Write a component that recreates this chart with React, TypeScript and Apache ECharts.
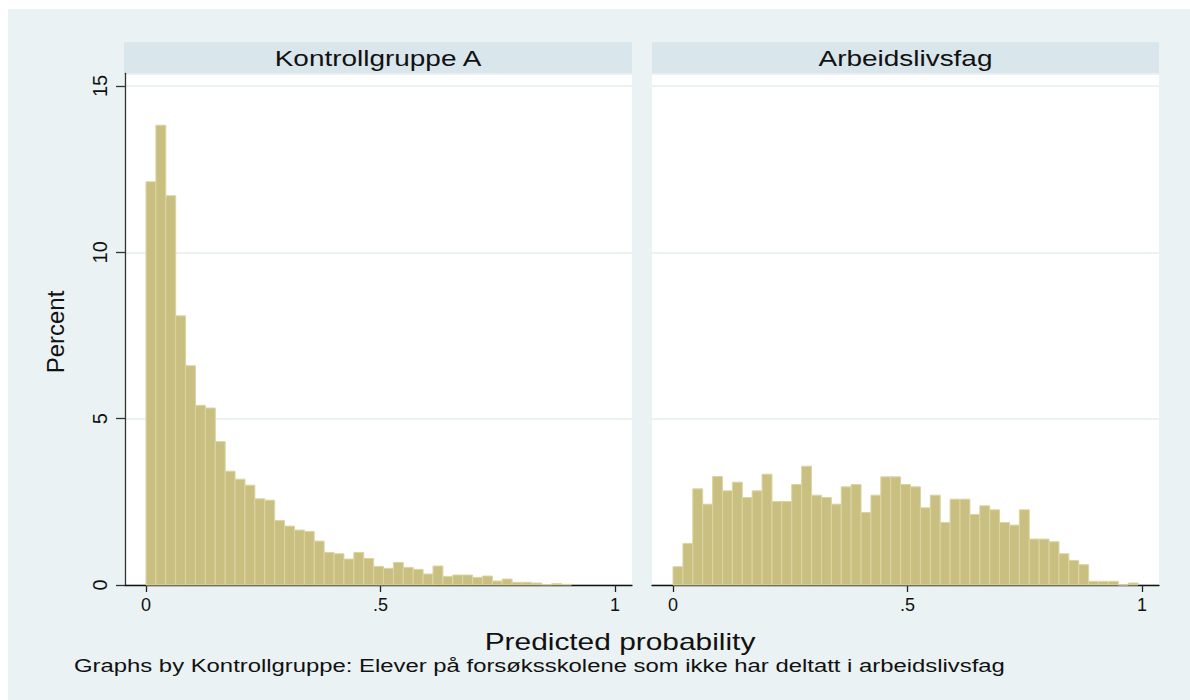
import React, { useEffect, useRef } from "react";
import * as echarts from "echarts";

const PANEL_TITLES = ["Kontrollgruppe A", "Arbeidslivsfag"];
const KONTROLL_A = [
  12.12, 13.82, 11.7, 8.09, 6.59, 5.4, 5.32, 4.31, 3.42, 3.18, 3.0, 2.59, 2.55, 1.94, 1.77,
  1.65, 1.61, 1.32, 0.98, 0.94, 0.78, 0.98, 0.8, 0.56, 0.5, 0.68, 0.53, 0.47, 0.33, 0.57,
  0.26, 0.3, 0.3, 0.23, 0.27, 0.12, 0.18, 0.08, 0.08, 0.06, 0.01, 0.04, 0.02,
];
const ARBEIDSLIVSFAG = [
  0.55, 1.25, 2.89, 2.43, 3.26, 2.83, 3.09, 2.63, 2.83, 3.33, 2.51, 2.51, 3.02, 3.57, 2.7,
  2.63, 2.43, 2.95, 3.02, 2.18, 2.7, 3.25, 3.25, 3.02, 2.95, 2.32, 2.7, 1.88, 2.58, 2.58,
  2.12, 2.38, 2.26, 1.88, 1.8, 2.26, 1.38, 1.38, 1.3, 0.94, 0.74, 0.61, 0.11, 0.11, 0.11,
  0, 0.06,
];
const BIN_START = 0;
const BIN_WIDTH = 0.0211;
const X_TICKS = [0, 0.5, 1];
const X_TICK_LABELS = ["0", ".5", "1"];
const Y_TITLE = "Percent";
const X_TITLE = "Predicted probability";
const NOTE = "Graphs by Kontrollgruppe: Elever på forsøksskolene som ikke har deltatt i arbeidslivsfag";

const FONT = "'Liberation Sans', Arial, Helvetica, sans-serif";
const BG = "#eaf2f3";
const STRIP = "#d9e6eb";
const FILL = "#c8bf80";
const EDGE = "#dbd5a2";

function binData(values: number[]) {
  return values.map((v, i) => [BIN_START + i * BIN_WIDTH, BIN_START + (i + 1) * BIN_WIDTH, v]);
}

export default function App() {
  const ref = useRef<HTMLDivElement>(null);
  useEffect(() => {
    if (!ref.current) return;
    const chart = echarts.init(ref.current, undefined, { renderer: "svg" });
    const renderItem = (params: any, api: any) => {
      const x0 = api.value(0);
      const x1 = api.value(1);
      const h = api.value(2);
      const p0 = api.coord([x0, h]);
      const p1 = api.coord([x1, 0]);
      return {
        type: "rect",
        shape: { x: p0[0], y: p0[1], width: p1[0] - p0[0], height: p1[1] - p0[1] },
        style: { fill: FILL, stroke: EDGE, lineWidth: 1 },
      };
    };
    const xAxisBase = (gridIndex: number) => ({
      type: "value",
      gridIndex,
      min: -0.0448,
      max: 1.0362,
      splitLine: { show: false },
      axisLine: { show: true, onZero: false, lineStyle: { color: "#111", width: 1.3 } },
      axisTick: { show: true, customValues: X_TICKS, length: 7, lineStyle: { color: "#222", width: 1.3 } },
      axisLabel: {
        show: true,
        customValues: X_TICKS,
        formatter: (v: number) => X_TICK_LABELS[X_TICKS.indexOf(v)] ?? "",
        fontSize: 18,
        fontFamily: FONT,
        color: "#111",
        margin: 11,
      },
    });
    const yAxisBase = (gridIndex: number, showAxis: boolean) => ({
      type: "value",
      gridIndex,
      min: 0,
      max: 15.38,
      interval: 5,
      splitLine: { show: true, lineStyle: { color: "#e6edf1", width: 1.5 } },
      axisLine: { show: showAxis, onZero: false, lineStyle: { color: "#333", width: 1.3 } },
      axisTick: { show: showAxis, length: 9, lineStyle: { color: "#333", width: 1.3 } },
      axisLabel: {
        show: showAxis,
        rotate: 90,
        fontSize: 20,
        fontFamily: FONT,
        color: "#111",
        margin: 15,
      },
    });
    const stripTitle = (cx: number, text: string) => ({
      type: "text",
      x: cx,
      y: 49,
      scaleX: 1.3,
      style: {
        text,
        x: 0,
        y: 0,
        align: "center",
        verticalAlign: "middle",
        fontSize: 21.5,
        fontFamily: FONT,
        fill: "#111",
      },
    });
    chart.setOption({
      animation: false,
      backgroundColor: BG,
      grid: [
        { left: 117, top: 64.3, width: 507, height: 511.7, show: true, backgroundColor: "#ffffff", borderWidth: 0 },
        { left: 644, top: 64.3, width: 507, height: 511.7, show: true, backgroundColor: "#ffffff", borderWidth: 0 },
      ],
      xAxis: [xAxisBase(0), xAxisBase(1)],
      yAxis: [yAxisBase(0, true), yAxisBase(1, false)],
      series: [
        {
          type: "custom",
          xAxisIndex: 0,
          yAxisIndex: 0,
          renderItem,
          encode: { x: [0, 1], y: 2 },
          data: binData(KONTROLL_A),
        },
        {
          type: "custom",
          xAxisIndex: 1,
          yAxisIndex: 1,
          renderItem,
          encode: { x: [0, 1], y: 2 },
          data: binData(ARBEIDSLIVSFAG),
        },
      ],
      graphic: [
        { type: "rect", shape: { x: 116, y: 33.3, width: 508, height: 31 }, style: { fill: STRIP } },
        { type: "rect", shape: { x: 644, y: 33.3, width: 507, height: 31 }, style: { fill: STRIP } },
        stripTitle(370, PANEL_TITLES[0]),
        stripTitle(897.5, PANEL_TITLES[1]),
        {
          type: "text",
          x: 47,
          y: 323,
          rotation: Math.PI / 2,
          style: {
            text: Y_TITLE,
            x: 0,
            y: 0,
            align: "center",
            verticalAlign: "middle",
            fontSize: 24,
            fontFamily: FONT,
            fill: "#111",
          },
        },
        {
          type: "text",
          x: 612,
          y: 633,
          scaleX: 1.3,
          style: {
            text: X_TITLE,
            x: 0,
            y: 0,
            align: "center",
            verticalAlign: "middle",
            fontSize: 23,
            fontFamily: FONT,
            fill: "#111",
          },
        },
        {
          type: "text",
          x: 66,
          y: 657,
          scaleX: 1.29,
          style: {
            text: NOTE,
            x: 0,
            y: 0,
            align: "left",
            verticalAlign: "middle",
            fontSize: 18.5,
            fontFamily: FONT,
            fill: "#111",
          },
        },
      ],
    });
    return () => chart.dispose();
  }, []);
  return (
    <div
      ref={ref}
      style={{ position: "fixed", left: 8, top: 9, width: 1182, height: 691 }}
    />
  );
}
